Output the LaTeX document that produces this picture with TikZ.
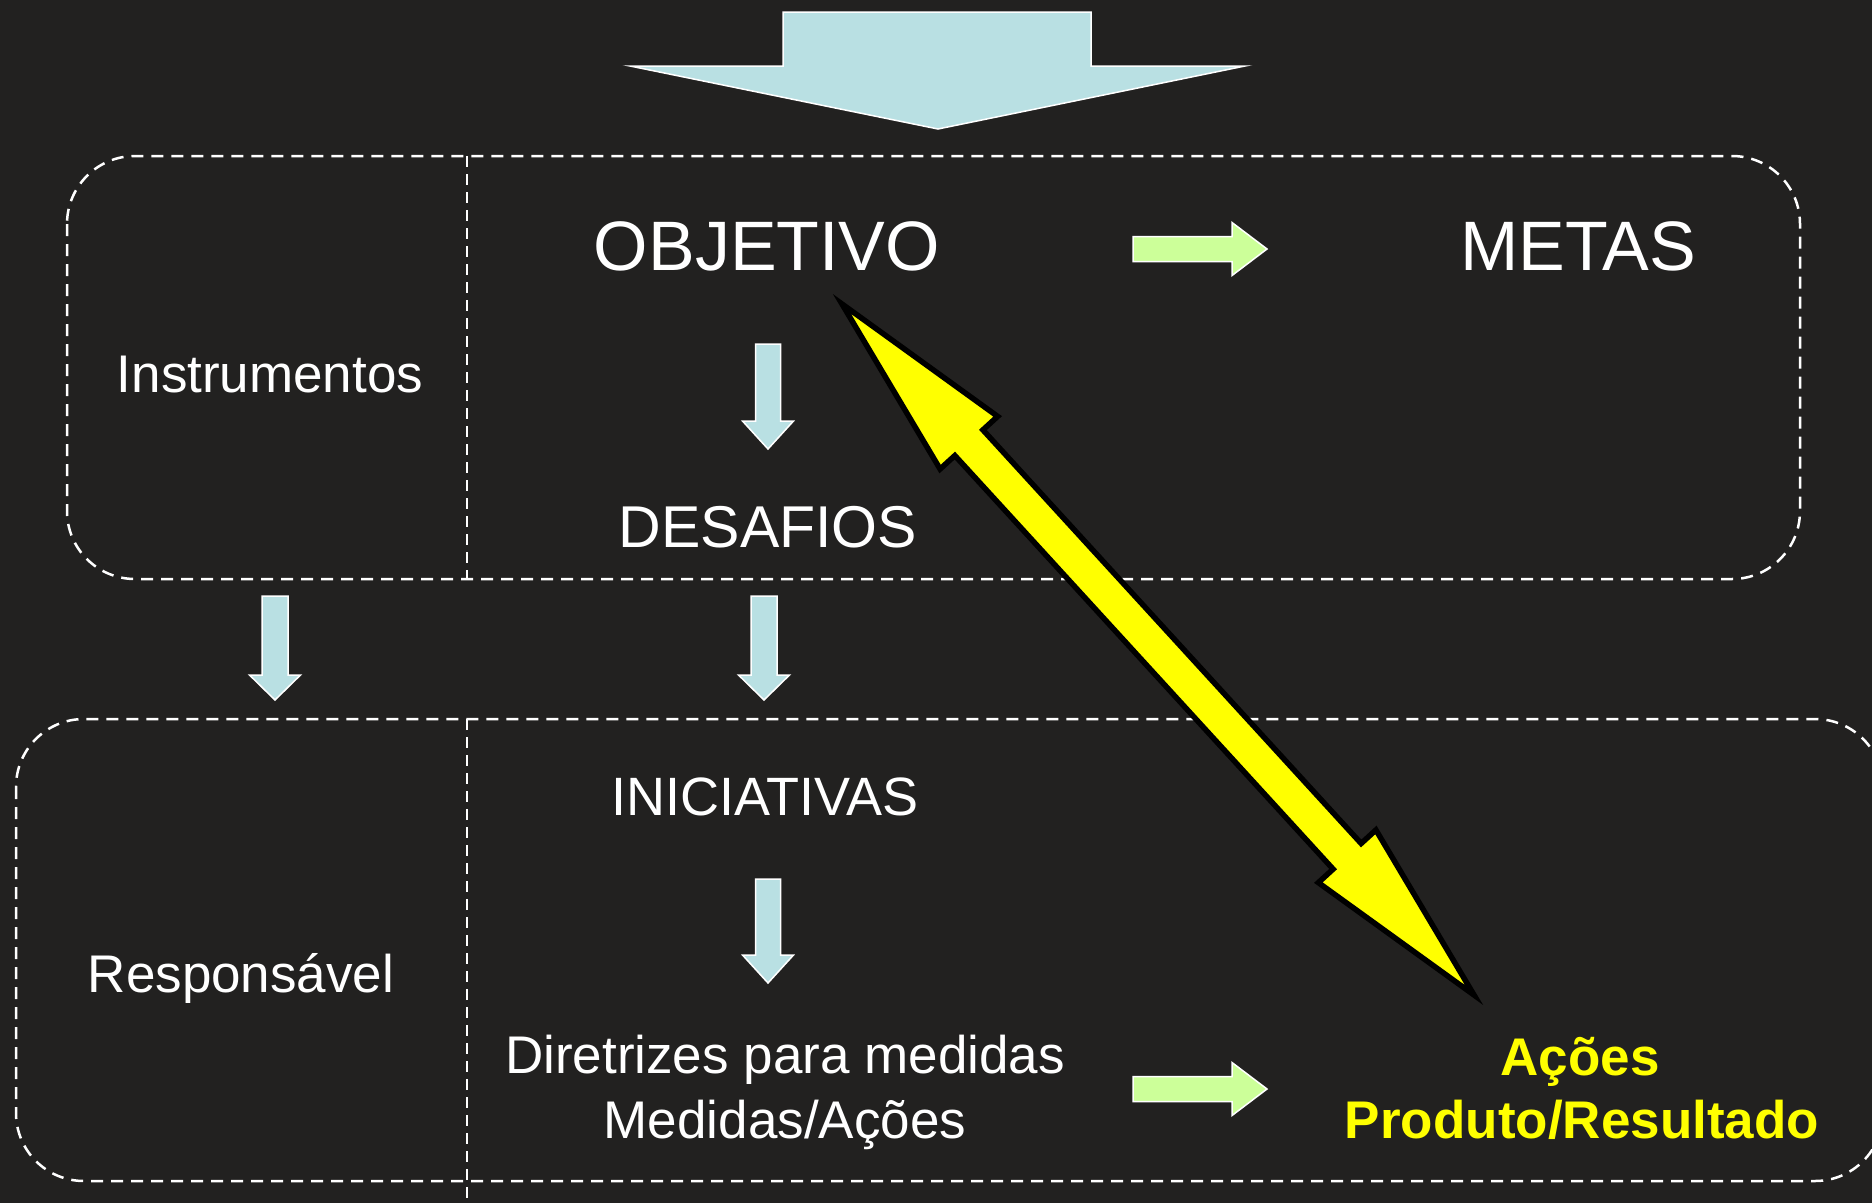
\documentclass[tikz,border=0pt]{standalone}
\usepackage{fontspec}
\setmainfont{Liberation Sans}
\usetikzlibrary{calc}
\definecolor{bg}{RGB}{34,33,32}
\definecolor{lblue}{RGB}{185,224,227}
\definecolor{lgreen}{RGB}{204,255,153}
\definecolor{yel}{RGB}{255,255,0}
\tikzset{
  box/.style={draw=white, line width=2.5pt, dash pattern=on 12pt off 8pt, rounded corners=68pt},
  divider/.style={draw=white, line width=1.6pt, dash pattern=on 11pt off 7pt},
  bluearrow/.style={fill=lblue, draw=white, line width=1.5pt, line join=miter},
  greenarrow/.style={fill=lgreen, draw=white, line width=1.5pt, line join=miter},
  yarrow/.style={fill=yel, draw=black, line width=5.5pt, line join=miter, miter limit=10},
  lbl/.style={text=white, inner sep=0pt, anchor=base},
  huge/.style={font=\fontsize{70}{84}\selectfont},
  mid/.style={font=\fontsize{53}{64}\selectfont},
  yl/.style={text=yel, inner sep=0pt, anchor=base, font=\fontsize{53}{64}\selectfont\bfseries},
}
\newcommand{\blockdown}[6]{% cx, top, headY, tip, shaft half, head half
  \draw[bluearrow] ({#1-#5},#2) -- ({#1+#5},#2) -- ({#1+#5},#3) -- ({#1+#6},#3) -- (#1,#4) -- ({#1-#6},#3) -- ({#1-#5},#3) -- cycle;}
\newcommand{\blockright}[6]{% left, cy, headX, tip, shaft half, head half
  \draw[greenarrow] (#1,{#2-#5}) -- (#3,{#2-#5}) -- (#3,{#2-#6}) -- (#4,#2) -- (#3,{#2+#6}) -- (#3,{#2+#5}) -- (#1,{#2+#5}) -- cycle;}
\begin{document}
\begin{tikzpicture}[x=1pt, y=-1pt]
  \fill[bg] (0,0) rectangle (1872,1203);
  \useasboundingbox (0,0) rectangle (1872,1203);
  \clip (0,0) rectangle (1872,1203);

  % top big arrow
  \draw[bluearrow] (783,12) -- (1091,12) -- (1091,66) -- (1245,66) -- (938,129) -- (630,66) -- (783,66) -- cycle;

  % boxes
  \draw[box] (67,156) rectangle (1800,579);
  \draw[divider] (467,156) -- (467,579);
  \draw[box] (16,719) rectangle (1883,1181);
  \draw[divider] (467,719) -- (467,1203);

  % texts
  \node[lbl, huge] (obj) at (767,270) {OBJETIVO};
  \node[lbl, huge] (metas) at (1578,270) {METAS};
  \node[lbl, mid] (instr) at (270,392) {Instrumentos};
  \node[lbl, font=\fontsize{59}{70}\selectfont] (desaf) at (768,547) {DESAFIOS};
  \node[lbl, font=\fontsize{54}{64}\selectfont] (inic) at (765,815) {INICIATIVAS};
  \node[lbl, mid] (resp) at (241,992) {Responsável};
  \node[lbl, mid] (dir1) at (785,1073) {Diretrizes para medidas};
  \node[lbl, mid] (dir2) at (785,1138) {Medidas/Ações};
  \node[yl] (ac1) at (1580,1075) {Ações};
  \node[yl] (ac2) at (1582,1138) {Produto/Resultado};

  % small blue arrows
  \blockdown{768}{344}{421}{449}{12.5}{25.5}
  \blockdown{275}{596}{675}{700}{13}{25.5}
  \blockdown{764}{596}{675}{700}{13}{25.5}
  \blockdown{768}{879}{955}{983}{12.5}{25.5}

  % green arrows
  \blockright{1133}{249}{1232}{1267}{12.5}{26.5}
  \blockright{1133}{1089}{1232}{1267}{12.5}{26.5}

  % yellow double arrow
  \coordinate (a1) at (842,304);
  \coordinate (a2) at (1474,995);
  \coordinate (h1) at ($(a1)!188pt!(a2)$);
  \coordinate (h2) at ($(a2)!188pt!(a1)$);
  \draw[yarrow] (a1) -- ($(h1)!39pt!90:(a2)$) -- ($(h1)!19pt!90:(a2)$)
    -- ($(h2)!19pt!-90:(a1)$) -- ($(h2)!39pt!-90:(a1)$) -- (a2)
    -- ($(h2)!39pt!90:(a1)$) -- ($(h2)!19pt!90:(a1)$)
    -- ($(h1)!19pt!-90:(a2)$) -- ($(h1)!39pt!-90:(a2)$) -- cycle;
\end{tikzpicture}
\end{document}
